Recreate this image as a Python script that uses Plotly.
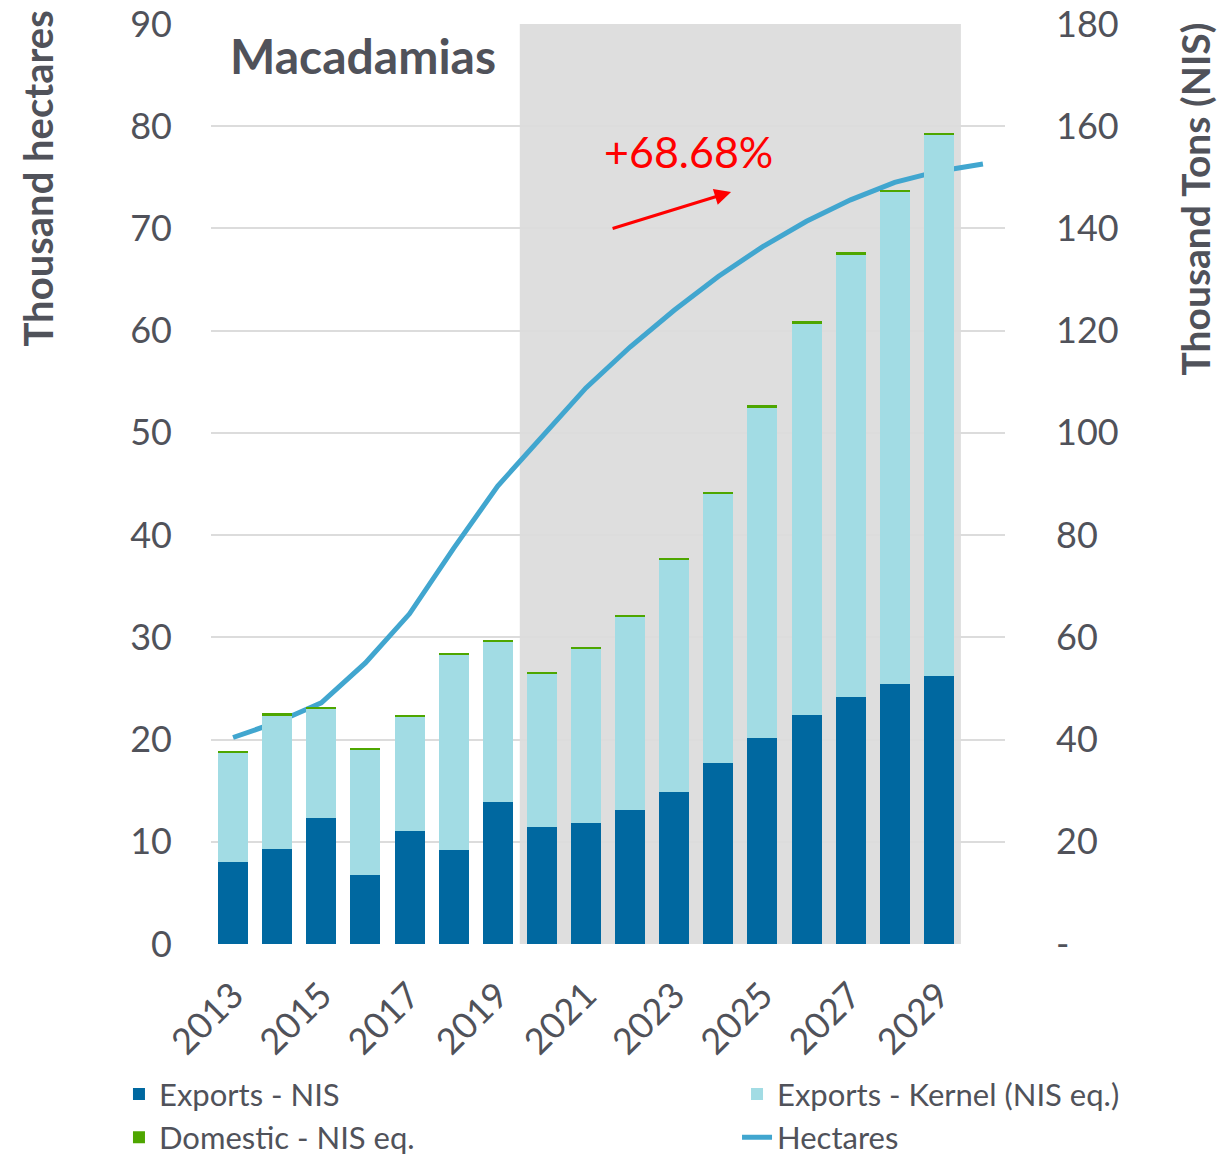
import plotly.graph_objects as go

years = list(range(2013, 2030))
line_years = list(range(2013, 2031))
exports_nis = [16.1, 18.6, 24.6, 13.5, 22.2, 18.3, 27.8, 22.9, 23.6, 26.3, 29.7, 35.4, 40.3, 44.9, 48.3, 50.8, 52.5]
exports_kernel = [21.4, 26.2, 21.3, 24.4, 22.3, 38.2, 31.2, 30.0, 34.1, 37.6, 45.4, 52.7, 64.6, 76.4, 86.5, 96.3, 105.7]
domestic = [0.3, 0.3, 0.4, 0.4, 0.4, 0.5, 0.4, 0.4, 0.4, 0.4, 0.4, 0.4, 0.5, 0.5, 0.5, 0.5, 0.5]
hectares = [20.2, 21.7, 23.6, 27.5, 32.3, 38.7, 44.8, 49.6, 54.4, 58.4, 62.0, 65.3, 68.2, 70.7, 72.8, 74.5, 75.6, 76.3]
left_ticks = [0, 10, 20, 30, 40, 50, 60, 70, 80, 90]
right_ticks = [0, 20, 40, 60, 80, 100, 120, 140, 160, 180]
right_labels = ["-", "20", "40", "60", "80", "100", "120", "140", "160", "180"]
x_ticks = list(range(2013, 2030, 2))

FONT = "Lato"
TXT = "#50525a"

fig = go.Figure()
fig.add_trace(go.Bar(x=years, y=exports_nis, name="Exports - NIS", marker_color="#0068a0",
                     marker_line_width=0, yaxis="y2", legend="legend"))
fig.add_trace(go.Bar(x=years, y=exports_kernel, name="Exports - Kernel (NIS eq.)", marker_color="#a2dce4",
                     marker_line_width=0, yaxis="y2", legend="legend2"))
fig.add_trace(go.Bar(x=years, y=domestic, name="Domestic - NIS eq.", marker_color="#4ea600",
                     marker_line_width=0, yaxis="y2", legend="legend"))
fig.add_trace(go.Scatter(x=line_years, y=hectares, name="Hectares", mode="lines",
                         line=dict(color="#41a6cf", width=5), yaxis="y", legend="legend2"))

fig.add_shape(type="rect", xref="x", yref="paper", x0=2019.5, x1=2029.5, y0=0, y1=1,
              fillcolor="#dedede", line_width=0, layer="below")

fig.add_annotation(xref="x", yref="y", x=2024.29, y=73.57, ax=2021.57, ay=69.95,
                   axref="x", ayref="y", showarrow=True, arrowhead=2, arrowsize=1.1,
                   arrowwidth=3, arrowcolor="#ff0000", text="")
fig.add_annotation(xref="x", yref="y", x=2023.32, y=77.5, text="+68.68%", showarrow=False,
                   font=dict(family=FONT, size=43, color="#ff0000"))
fig.add_annotation(xref="paper", yref="paper", x=0.0214, y=0.966, xanchor="left", yanchor="middle",
                   text="<b>Macadamias</b>", showarrow=False,
                   font=dict(family=FONT, size=48, color=TXT))
fig.add_annotation(xref="paper", yref="paper", x=-0.2179, y=0.832, xanchor="center", yanchor="middle",
                   text="<b>Thousand hectares</b>", textangle=-90, showarrow=False,
                   font=dict(family=FONT, size=40, color=TXT))
fig.add_annotation(xref="paper", yref="paper", x=1.239, y=0.810, xanchor="center", yanchor="middle",
                   text="<b>Thousand Tons (NIS)</b>", textangle=-90, showarrow=False,
                   font=dict(family=FONT, size=39, color=TXT))

fig.update_layout(
    width=1229, height=1159,
    margin=dict(l=211, r=224, t=24, b=215, autoexpand=False),
    paper_bgcolor="white", plot_bgcolor="white",
    barmode="stack", bargap=0.32,
    font=dict(family=FONT, color=TXT, size=30),
    xaxis=dict(range=[2012.5, 2030.5], tickvals=x_ticks, tickangle=-45,
               tickfont=dict(size=36, color=TXT), showgrid=False, zeroline=False,
               showline=False, ticks="", ticklabelstandoff=22, automargin=False,
               ticklabeloverflow="allow"),
    yaxis=dict(range=[0, 90], tickvals=left_ticks, tickfont=dict(size=36, color=TXT),
               showgrid=True, gridcolor="#dcdcdc", gridwidth=2, zeroline=False,
               ticklabelstandoff=38, automargin=False, ticklabeloverflow="allow"),
    yaxis2=dict(range=[0, 180], tickvals=right_ticks, ticktext=right_labels, overlaying="y", side="right",
                tickfont=dict(size=36, color=TXT), showgrid=False, zeroline=False,
                ticklabelstandoff=50, automargin=False, ticklabeloverflow="allow"),
    legend=dict(orientation="v", x=-0.1159, y=-0.134, xanchor="left", yanchor="top",
                traceorder="normal", font=dict(size=31, color=TXT), bgcolor="rgba(0,0,0,0)"),
    legend2=dict(orientation="v", x=0.6625, y=-0.134, xanchor="left", yanchor="top",
                 traceorder="normal", font=dict(size=31, color=TXT), bgcolor="rgba(0,0,0,0)"),
)

fig.write_html("out.html", config={"displayModeBar": False},
               post_script="document.body.style.margin='0px';")
